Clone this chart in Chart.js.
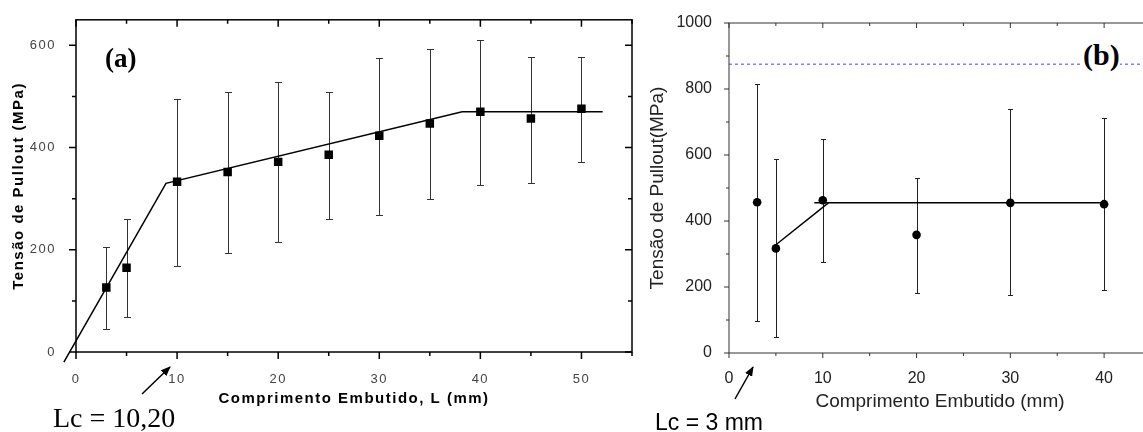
<!DOCTYPE html>
<html>
<head>
<meta charset="utf-8">
<script src="https://cdn.jsdelivr.net/npm/chart.js@4.4.0/dist/chart.umd.min.js"></script>
<style>
  html, body { margin: 0; padding: 0; background: #fff; width: 1143px; height: 432px; overflow: hidden; position: relative; }
  canvas { position: absolute; top: 0; }
  #chartA { left: 0; }
  #chartB { left: 630px; }
  .lbl { position: absolute; white-space: nowrap; line-height: 1; color: #000; }
  svg { position: absolute; left: 0; top: 0; pointer-events: none; }
</style>
</head>
<body>
<canvas id="chartA" width="640" height="432"></canvas>
<canvas id="chartB" width="530" height="432"></canvas>

<div class="lbl" style="left:105px; top:43px; font:bold 27px 'Liberation Serif', serif;">(a)</div>
<div class="lbl" style="left:1083px; top:38px; font:bold 30px 'Liberation Serif', serif; background:#fff;">(b)</div>
<div class="lbl" style="left:53px; top:402px; font:28px 'Liberation Serif', serif;">Lc = 10,20</div>
<div class="lbl" style="left:655px; top:409px; font:23px 'Liberation Sans', Arial, sans-serif;">Lc = 3 mm</div>

<svg width="1143" height="432">
  <defs>
    <marker id="seta" markerWidth="10" markerHeight="8" refX="9" refY="4" orient="auto" markerUnits="userSpaceOnUse">
      <path d="M0,0 L10,4 L0,8 z" fill="#000"/>
    </marker>
  </defs>
  <line x1="142" y1="394" x2="170" y2="367" stroke="#000" stroke-width="1.5" marker-end="url(#seta)"/>
  <line x1="735" y1="399" x2="753" y2="367" stroke="#000" stroke-width="1.5" marker-end="url(#seta)"/>
</svg>

<script>
// (a) comprimento embutido x tensao de pullout
const lenA = [3, 5, 10, 15, 20, 25, 30, 35, 40, 45, 50];
const tensaoA = [126, 165, 333, 352, 372, 386, 423, 447, 470, 457, 476];
const erroSupA = [205, 260, 495, 509, 529, 509, 575, 592, 611, 578, 578];
const erroInfA = [45, 69, 168, 194, 215, 261, 268, 299, 326, 331, 372];
const ajusteAX = [-1.2, 8.9, 38.2, 52.1];
const ajusteAY = [-20, 330, 470, 470];

// (b)
const lenB = [3, 5, 10, 20, 30, 40];
const tensaoB = [457, 317, 463, 358, 455, 451];
const erroSupB = [815, 587, 648, 531, 740, 711];
const erroInfB = [96, 49, 276, 182, 177, 192];
const rampaBX = [5, 10.6];
const rampaBY = [328, 455];
const patamarBX = [9.1, 40.2];
const patamarBY = [455, 455];
const linhaRefB = 875;

Chart.defaults.font.family = "'Liberation Sans', Arial, sans-serif";

const pts = (xs, ys) => xs.map((x, i) => ({ x: x, y: ys[i] }));

// moldura com ticks maiores/menores (fora na esquerda/baixo, dentro no topo/direita)
const moldura = {
  id: 'moldura',
  afterDraw(chart, args, o) {
    const { ctx, chartArea: a, scales: { x, y } } = chart;
    ctx.save();
    ctx.strokeStyle = o.color;
    ctx.lineWidth = o.width;
    ctx.beginPath();
    for (let v = x.min; v <= x.max + 1e-9; v += o.xMinor) {
      const px = x.getPixelForValue(v);
      const len = Math.round(v / o.xMinor) % Math.round(o.xMajor / o.xMinor) === 0 ? o.major : o.minor;
      ctx.moveTo(px, a.bottom); ctx.lineTo(px, a.bottom + len);
      ctx.moveTo(px, a.top); ctx.lineTo(px, a.top + len);
    }
    for (let v = y.min; v <= y.max + 1e-9; v += o.yMinor) {
      const py = y.getPixelForValue(v);
      const len = Math.round(v / o.yMinor) % Math.round(o.yMajor / o.yMinor) === 0 ? o.major : o.minor;
      ctx.moveTo(a.left, py); ctx.lineTo(a.left - len, py);
      ctx.moveTo(a.right, py); ctx.lineTo(a.right - len, py);
    }
    ctx.stroke();
    ctx.strokeRect(a.left, a.top, a.right - a.left, a.bottom - a.top);
    ctx.restore();
  }
};

// barras de erro desenhadas a partir de erro.sup / erro.inf do dataset
const barrasErro = {
  id: 'barrasErro',
  beforeDatasetsDraw(chart, args, o) {
    const { ctx, scales: { y } } = chart;
    chart.data.datasets.forEach((ds, i) => {
      if (!ds.erro) return;
      const meta = chart.getDatasetMeta(i);
      ctx.save();
      ctx.strokeStyle = o.color;
      ctx.lineWidth = o.width;
      ctx.beginPath();
      meta.data.forEach((pt, j) => {
        const px = Math.round(pt.x) + 0.5;
        const yt = Math.round(y.getPixelForValue(ds.erro.sup[j])) + 0.5;
        const yb = Math.round(y.getPixelForValue(ds.erro.inf[j])) + 0.5;
        ctx.moveTo(px, yt); ctx.lineTo(px, yb);
        ctx.moveTo(px - o.cap, yt); ctx.lineTo(px + o.cap, yt);
        ctx.moveTo(px - o.cap, yb); ctx.lineTo(px + o.cap, yb);
      });
      ctx.stroke();
      ctx.restore();
    });
  }
};

// texto do grafico (a) aparece mais largo
const espacamento = {
  id: 'espacamento',
  beforeDraw(chart, args, o) { chart.ctx.letterSpacing = o.valor; }
};

const semMilhar = (v) => String(v);

new Chart(document.getElementById('chartA'), {
  type: 'scatter',
  data: {
    datasets: [
      {
        data: pts(ajusteAX, ajusteAY),
        showLine: true,
        borderColor: '#000',
        borderWidth: 1.5,
        pointRadius: 0,
        clip: false,
      },
      {
        data: pts(lenA, tensaoA),
        erro: { sup: erroSupA, inf: erroInfA },
        pointStyle: 'rect',
        pointRadius: 6,
        backgroundColor: '#000',
        borderColor: '#000',
        borderWidth: 0,
      },
    ],
  },
  options: {
    responsive: false,
    animation: false,
    devicePixelRatio: 1,
    layout: { padding: { left: 0, top: 19, right: 8, bottom: 0 } },
    plugins: {
      legend: { display: false },
      tooltip: { enabled: false },
      moldura: { color: '#000', width: 1.5, xMajor: 10, xMinor: 5, yMajor: 200, yMinor: 100, major: 7, minor: 4 },
      barrasErro: { color: '#333', width: 1, cap: 3.5 },
      espacamento: { valor: '1.5px' },
    },
    scales: {
      x: {
        type: 'linear',
        min: 0, max: 55,
        grid: { display: false },
        border: { display: false },
        ticks: { stepSize: 10, includeBounds: false, padding: 12, color: '#444', font: { size: 13 }, callback: semMilhar },
        title: { display: true, text: 'Comprimento Embutido, L (mm)', color: '#000', font: { size: 15, weight: 'bold' }, padding: { top: 0, bottom: 24 } },
        afterFit(s) { s.height = 80; },
      },
      y: {
        min: 0, max: 650,
        grid: { display: false },
        border: { display: false },
        ticks: { stepSize: 200, includeBounds: false, padding: 12, color: '#444', font: { size: 13 }, callback: semMilhar },
        title: { display: true, text: 'Tensão de Pullout (MPa)', color: '#000', font: { size: 15, weight: 'bold' }, padding: { top: 10, bottom: 0 } },
        afterFit(s) { s.width = 76; },
      },
    },
  },
  plugins: [espacamento, barrasErro, moldura],
});

new Chart(document.getElementById('chartB'), {
  type: 'scatter',
  data: {
    datasets: [
      {
        data: pts([0, 45], [linhaRefB, linhaRefB]),
        showLine: true,
        borderColor: '#8080ff',
        borderWidth: 1.5,
        borderDash: [3, 3],
        pointRadius: 0,
      },
      {
        data: pts(rampaBX, rampaBY),
        showLine: true,
        borderColor: '#000',
        borderWidth: 1.5,
        pointRadius: 0,
      },
      {
        data: pts(patamarBX, patamarBY),
        showLine: true,
        borderColor: '#000',
        borderWidth: 1.5,
        pointRadius: 0,
      },
      {
        data: pts(lenB, tensaoB),
        erro: { sup: erroSupB, inf: erroInfB },
        pointStyle: 'circle',
        pointRadius: 4.3,
        backgroundColor: '#000',
        borderColor: '#000',
        borderWidth: 0,
      },
    ],
  },
  options: {
    responsive: false,
    animation: false,
    devicePixelRatio: 1,
    layout: { padding: { left: 0, top: 23, right: 9, bottom: 0 } },
    plugins: {
      legend: { display: false },
      tooltip: { enabled: false },
      moldura: { color: '#333', width: 1, xMajor: 10, xMinor: 5, yMajor: 200, yMinor: 100, major: 5, minor: 3 },
      barrasErro: { color: '#222', width: 1, cap: 2.5 },
    },
    scales: {
      x: {
        type: 'linear',
        min: 0, max: 45,
        grid: { display: false },
        border: { display: false },
        ticks: { stepSize: 10, includeBounds: false, padding: 8, color: '#222', font: { size: 16 }, callback: semMilhar },
        title: { display: true, text: 'Comprimento Embutido (mm)', color: '#222', font: { size: 19 }, padding: { top: 0, bottom: 19 } },
        afterFit(s) { s.height = 79; },
      },
      y: {
        min: 0, max: 1000,
        grid: { display: false },
        border: { display: false },
        ticks: { stepSize: 200, padding: 9, color: '#222', font: { size: 16 }, callback: semMilhar },
        title: { display: true, text: 'Tensão de Pullout(MPa)', color: '#222', font: { size: 19 }, padding: { top: 16, bottom: 0 } },
        afterFit(s) { s.width = 99; },
      },
    },
  },
  plugins: [barrasErro, moldura],
});
</script>
</body>
</html>
